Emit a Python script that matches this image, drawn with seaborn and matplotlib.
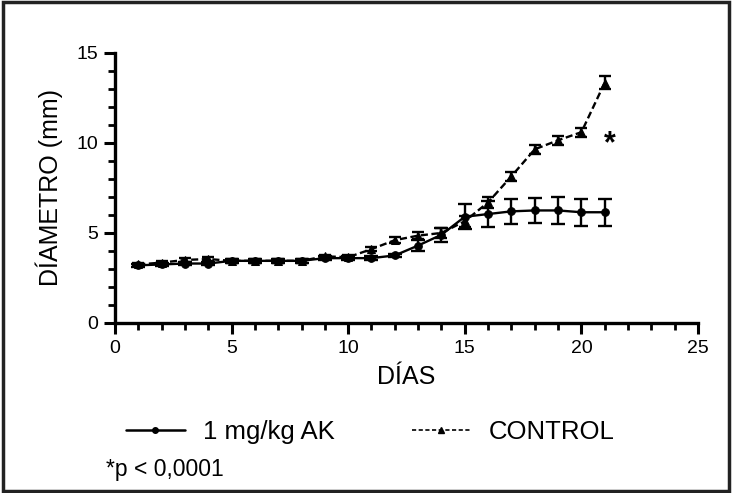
import matplotlib
matplotlib.use("Agg")
import matplotlib.pyplot as plt
import seaborn as sns
import pandas as pd
from matplotlib.lines import Line2D
from matplotlib.patches import Rectangle

days = list(range(1, 22))
treated = [3.2, 3.25, 3.3, 3.3, 3.45, 3.45, 3.45, 3.45, 3.6, 3.6, 3.6, 3.75,
           4.3, 4.9, 5.9, 6.05, 6.2, 6.25, 6.25, 6.15, 6.15]
treated_err = [0.1, 0.1, 0.1, 0.1, 0.1, 0.1, 0.1, 0.1, 0.1, 0.1, 0.1, 0.1,
               0.3, 0.4, 0.7, 0.7, 0.7, 0.7, 0.75, 0.75, 0.75]
control = [3.25, 3.35, 3.5, 3.55, 3.45, 3.45, 3.45, 3.45, 3.7, 3.65, 4.1, 4.6,
           4.85, 5.0, 5.65, 6.7, 8.15, 9.65, 10.15, 10.6, 13.35]
control_err = [0.1, 0.1, 0.1, 0.1, 0.1, 0.1, 0.1, 0.1, 0.1, 0.1, 0.1, 0.15,
               0.2, 0.3, 0.3, 0.3, 0.25, 0.25, 0.25, 0.25, 0.35]
labels = ["1 mg/kg AK", "CONTROL"]
xticks = [0, 5, 10, 15, 20, 25]
yticks = [0, 5, 10, 15]
star_pos = (21.2, 9.95)

sns.set_theme(style="ticks")
plt.rcParams["font.family"] = ["Liberation Sans", "DejaVu Sans"]
plt.rcParams["text.color"] = "black"
plt.rcParams["axes.labelcolor"] = "black"
plt.rcParams["xtick.color"] = "black"
plt.rcParams["ytick.color"] = "black"

fig = plt.figure(figsize=(7.32, 4.93), dpi=100)
ax = fig.add_axes([0.157, 0.345, 0.7966, 0.5475])

df = pd.DataFrame({"day": days * 2,
                   "value": treated + control,
                   "group": [labels[0]] * len(days) + [labels[1]] * len(days)})

sns.lineplot(data=df[df.group == labels[0]], x="day", y="value", ax=ax,
             color="black", lw=1.7, marker="o", markersize=5.5,
             markeredgecolor="black", legend=False)
sns.lineplot(data=df[df.group == labels[1]], x="day", y="value", ax=ax,
             color="black", lw=1.7, marker="^", markersize=6,
             markeredgecolor="black", linestyle=(0, (3, 1.5)), legend=False)

ax.errorbar(days, treated, yerr=treated_err, fmt="none", ecolor="black",
            elinewidth=1.7, capsize=5, capthick=1.7)
ax.errorbar(days, control, yerr=control_err, fmt="none", ecolor="black",
            elinewidth=1.7, capsize=4, capthick=1.7)

ax.text(star_pos[0], star_pos[1], "*", fontsize=22, fontweight="bold",
        ha="center", va="center")

ax.set_xlim(0, 25)
ax.set_ylim(0, 15)
ax.set_xticks(xticks)
ax.set_yticks(yticks)
ax.set_xticks(range(0, 26), minor=True)
ax.set_yticks(range(0, 16), minor=True)
ax.tick_params(axis="both", which="major", length=8, width=2.2, labelsize=14,
               pad=4)
ax.tick_params(axis="both", which="minor", length=5, width=2)
for s in ["left", "bottom"]:
    ax.spines[s].set_linewidth(2.4)
    ax.spines[s].set_color("black")
sns.despine(ax=ax)
ax.set_xlabel("DÍAS", fontsize=18, labelpad=6)
ax.set_ylabel("DÍAMETRO (mm)", fontsize=18, labelpad=10)

handles = [Line2D([], [], color="black", lw=1.8, marker="o", markersize=4),
           Line2D([], [], color="black", lw=1.2, linestyle=(0, (2.5, 1.5)),
                  marker="^", markersize=4)]
fig.legend(handles, labels, loc="center left", bbox_to_anchor=(0.14, 0.124),
           ncol=2, frameon=False, fontsize=18.5, handlelength=2.3,
           handletextpad=0.7, columnspacing=3.0)
fig.text(0.145, 0.047, "*p < 0,0001", fontsize=16.5, ha="left", va="center")

fig.patches.append(Rectangle((0.004, 0.004), 0.992, 0.992, transform=fig.transFigure,
                             fill=False, lw=2.5, edgecolor="#222222"))

fig.savefig("out.png", dpi=100)
